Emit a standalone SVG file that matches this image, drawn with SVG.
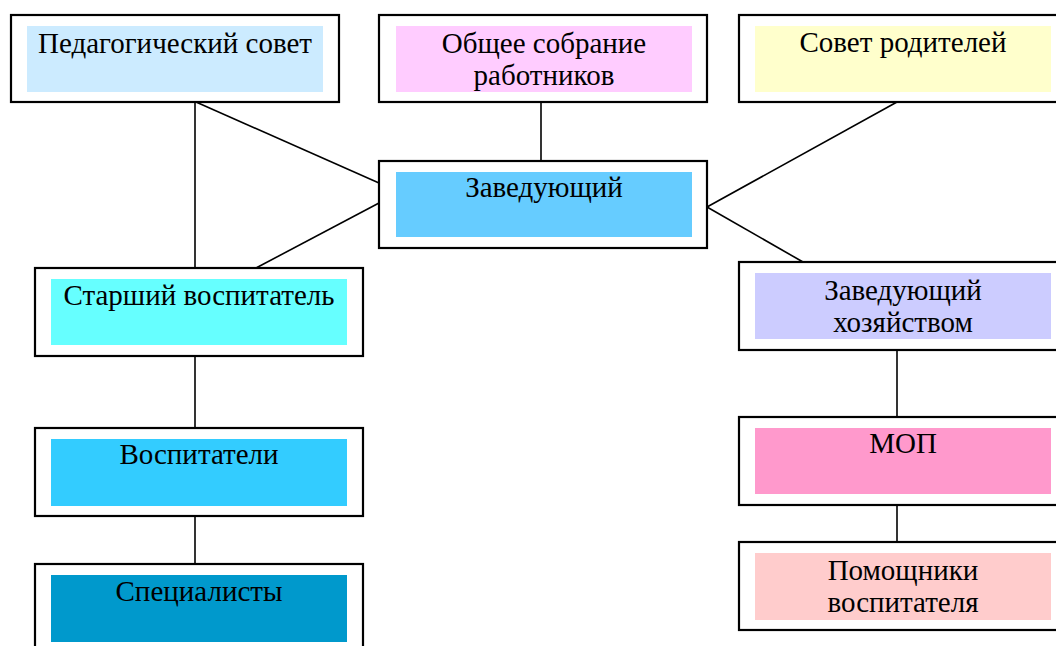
<svg xmlns="http://www.w3.org/2000/svg" width="1056" height="646" viewBox="0 0 1056 646">
<style>
.box{fill:#fff;stroke:#000;stroke-width:2.2}
.t{font-family:"Liberation Serif","Times New Roman",serif;font-size:29px;fill:#000;text-anchor:middle}
.c{stroke:#000;stroke-width:1.6;fill:none}
</style>
<rect width="1056" height="646" fill="#fff"/>
<g id="connectors">
<line class="c" x1="195" y1="102" x2="195" y2="268"/>
<line class="c" x1="196" y1="102" x2="379" y2="183"/>
<line class="c" x1="541" y1="102" x2="541" y2="161"/>
<line class="c" x1="897" y1="102" x2="707" y2="207"/>
<line class="c" x1="379" y1="203" x2="256" y2="268"/>
<line class="c" x1="707" y1="207" x2="803" y2="262"/>
<line class="c" x1="195" y1="356" x2="195" y2="428"/>
<line class="c" x1="195" y1="516" x2="195" y2="564"/>
<line class="c" x1="897" y1="350" x2="897" y2="417"/>
<line class="c" x1="897" y1="505" x2="897" y2="542"/>
</g>
<g id="ped-sovet">
<rect class="box" x="11" y="15" width="328" height="87"/>
<rect x="27" y="26" width="296" height="66" fill="#CCEBFF"/>
<text class="t" x="175" y="53">Педагогический совет</text>
</g>
<g id="obshchee-sobranie">
<rect class="box" x="379" y="15" width="328" height="87"/>
<rect x="396" y="26" width="296" height="66" fill="#FFCCFF"/>
<text class="t" x="544" y="53">Общее собрание</text>
<text class="t" x="544" y="85">работников</text>
</g>
<g id="sovet-roditeley">
<rect class="box" x="739" y="15" width="328" height="87"/>
<rect x="755" y="26" width="296" height="66" fill="#FFFFCC"/>
<text class="t" x="903" y="52">Совет родителей</text>
</g>
<g id="zaveduyushchiy">
<rect class="box" x="379" y="161" width="328" height="87"/>
<rect x="396" y="172" width="296" height="65" fill="#66CCFF"/>
<text class="t" x="544" y="197">Заведующий</text>
</g>
<g id="starshiy-vospitatel">
<rect class="box" x="35" y="268" width="328" height="88"/>
<rect x="51" y="279" width="296" height="66" fill="#66FFFF"/>
<text class="t" x="199" y="305">Старший воспитатель</text>
</g>
<g id="zav-khozyaystvom">
<rect class="box" x="739" y="262" width="328" height="88"/>
<rect x="755" y="273" width="296" height="66" fill="#CCCCFF"/>
<text class="t" x="903" y="300">Заведующий</text>
<text class="t" x="903" y="332">хозяйством</text>
</g>
<g id="vospitateli">
<rect class="box" x="35" y="428" width="328" height="88"/>
<rect x="51" y="439" width="296" height="67" fill="#33CCFF"/>
<text class="t" x="199" y="464">Воспитатели</text>
</g>
<g id="mop">
<rect class="box" x="739" y="417" width="328" height="88"/>
<rect x="755" y="428" width="296" height="66" fill="#FF99CC"/>
<text class="t" x="903" y="453">МОП</text>
</g>
<g id="spetsialisty">
<rect class="box" x="35" y="564" width="328" height="100"/>
<rect x="51" y="575" width="296" height="67" fill="#0099CC"/>
<text class="t" x="199" y="601">Специалисты</text>
</g>
<g id="pomoshchniki">
<rect class="box" x="739" y="542" width="328" height="88"/>
<rect x="755" y="553" width="296" height="67" fill="#FFCCCC"/>
<text class="t" x="903" y="580">Помощники</text>
<text class="t" x="903" y="612">воспитателя</text>
</g>
</svg>
